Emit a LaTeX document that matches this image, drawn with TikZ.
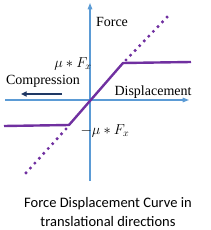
\documentclass[tikz,border=0pt]{standalone}
\usepackage{fontspec}
\setmainfont{Liberation Serif}
\newfontfamily\capfont{Carlito}
\usepackage{xcolor}
\usetikzlibrary{arrows.meta,positioning}
\definecolor{axisc}{HTML}{5B9BD5}
\definecolor{curvec}{HTML}{7030A0}
\definecolor{navyc}{HTML}{1F3864}
\tikzset{
  ax/.style={-{Triangle[length=2.2mm,width=1.6mm]},line width=1.1pt,axisc},
  curve/.style={line width=2.4pt,curvec,line join=round},
  dots/.style={line width=3.4pt,curvec,line cap=round,dash pattern=on 0pt off 6.6pt},
  lbl/.style={font=\fontsize{14}{16}\selectfont,inner sep=0pt}
}
\begin{document}
\begin{tikzpicture}[x=1pt,y=-1pt]
\useasboundingbox (0,0) rectangle (211,230);
% axes
\coordinate (O) at (90,100);
\coordinate (ytop) at (90,3); \coordinate (ybot) at (90,181);
\coordinate (xl) at (5,100); \coordinate (xr) at (189,100);
\draw[ax] (ybot)--(ytop);
\draw[ax] (xl)--(xr);
% curve
\coordinate (A) at (123,63); \coordinate (Ar) at (191,62);
\coordinate (B) at (69,125); \coordinate (Bl) at (4,126);
\draw[curve] (Bl)--(B)--(A)--(Ar);
\coordinate (D1) at (126,60); \coordinate (D2) at (170,14);
\coordinate (D3) at (66,129); \coordinate (D4) at (25,174);
\draw[dots] (D1)--(D2);
\draw[dots] (D3)--(D4);
% labels
\node[lbl] (force) at (112,22) {Force};
\node[lbl] (disp) at (153,92) {Displacement};
\node[lbl] (comp) at (43,81) {Compression};
\node[lbl] (fp) at (73,64) {$\mu*F_x$};
\node[lbl] (fm) at (105,131) {$-\mu*F_x$};
\coordinate (c1) at (62,94); \coordinate (c2) at (21,94);
\draw[-{Triangle[length=2mm,width=1.8mm]},line width=1.3pt,navyc] (c1)--(c2);
\node[font=\capfont\fontsize{14.5}{19}\selectfont,align=center] (cap) at (108,212)
  {Force Displacement Curve in\\translational directions};
\end{tikzpicture}
\end{document}
